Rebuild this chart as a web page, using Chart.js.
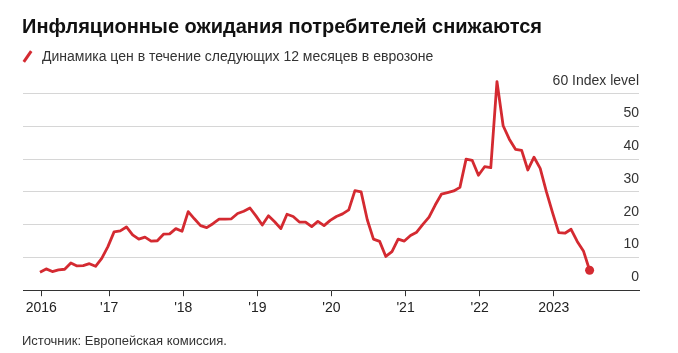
<!DOCTYPE html>
<html>
<head>
<meta charset="utf-8">
<script src="https://cdn.jsdelivr.net/npm/chart.js@4/dist/chart.umd.min.js"></script>
<style>
  body { margin: 0; background: #fff; font-family: "Liberation Sans", Arial, sans-serif; }
  #wrap { position: relative; width: 678px; height: 353px; overflow: hidden; }
  #chart { position: absolute; left: 0; top: 0; }
  #title { position: absolute; left: 22px; top: 15px; font-size: 20px; font-weight: bold; color: #111; white-space: nowrap; }
  #legend { position: absolute; left: 22px; top: 48px; font-size: 14px; color: #333; white-space: nowrap; }
  #legend .swatch { display: inline-block; width: 3px; height: 13px; background: #d42a31; transform: rotate(35deg); margin: 0 13px -2px 4px; }
  #source { position: absolute; left: 22px; top: 333px; font-size: 13px; color: #333; white-space: nowrap; }
</style>
</head>
<body>
<div id="wrap">
  <canvas id="chart" width="678" height="353"></canvas>
  <div id="title">Инфляционные ожидания потребителей снижаются</div>
  <div id="legend"><span class="swatch"></span>Динамика цен в течение следующих 12 месяцев в еврозоне</div>
  <div id="source">Источник: Европейская комиссия.</div>
</div>
<script>
// Monthly balance, Jan 2016 - Jun 2023
const priceExpectations = [
  5.5, 6.5, 5.7, 6.2, 6.4, 8.3, 7.4, 7.5, 8.1, 7.3, 9.7, 13.3,
  17.8, 18.1, 19.3, 16.9, 15.6, 16.2, 15.0, 15.1, 17.1, 17.2, 18.8, 18.0,
  24.0, 21.8, 19.7, 19.1, 20.3, 21.7, 21.7, 21.8, 23.4, 24.1, 25.1, 22.6,
  19.9, 22.7, 20.9, 18.8, 23.2, 22.5, 20.8, 20.8, 19.4, 21.0, 19.7, 21.3,
  22.5, 23.3, 24.5, 30.4, 30.0, 21.5, 15.6, 14.9, 10.3, 11.8, 15.6, 15.0,
  16.7, 17.7, 20.1, 22.3, 26.0, 29.3, 29.8, 30.3, 31.4, 40.0, 39.6, 35.1,
  37.7, 37.4, 63.7, 50.2, 46.1, 43.0, 42.7, 36.7, 40.6, 37.2, 30.1, 23.7,
  17.6, 17.4, 18.6, 14.9, 12.0, 6.1
];
const seriesLabel = "Динамика цен в течение следующих 12 месяцев в еврозоне";
const xTickLabels = ["2016", "'17", "'18", "'19", "'20", "'21", "'22", "2023"];
const xTickMonths = [1, 12, 24, 36, 48, 60, 72, 84];   // months since Jan 2016
const yTickValues = [0, 10, 20, 30, 40, 50, 60];

const red = "#d42a31";
const lastIdx = priceExpectations.length - 1;

// points sit late in their month
const points = priceExpectations.map((v, i) => ({ x: i + 0.8, y: v }));

// y labels sit above their gridline, inside the plot, right aligned
const yLabels = {
  id: "yLabels",
  afterDraw(chart) {
    const { ctx, chartArea, scales } = chart;
    ctx.save();
    ctx.font = "14px 'Liberation Sans', Arial, sans-serif";
    ctx.fillStyle = "#333";
    ctx.textAlign = "right";
    ctx.textBaseline = "middle";
    yTickValues.forEach(v => {
      const y = scales.y.getPixelForValue(v) - 13;
      ctx.fillText(v === 60 ? "60 Index level" : String(v), chartArea.right, y);
    });
    ctx.restore();
  }
};

new Chart(document.getElementById("chart").getContext("2d"), {
  type: "line",
  data: {
    datasets: [{
      label: seriesLabel,
      data: points,
      borderColor: red,
      backgroundColor: red,
      borderWidth: 2.8,
      borderJoinStyle: "round",
      tension: 0,
      pointRadius: (c) => (c.dataIndex === lastIdx ? 4.5 : 0),
      pointBorderWidth: 0,
      pointHoverRadius: 0
    }]
  },
  options: {
    responsive: false,
    animation: false,
    layout: { padding: { left: 23, right: 39, top: 74, bottom: 32 } },
    plugins: {
      legend: { display: false },
      tooltip: { enabled: false }
    },
    scales: {
      x: {
        type: "linear",
        min: -1.95,
        max: 97.8,
        afterBuildTicks: (s) => { s.ticks = xTickMonths.map(v => ({ value: v })); },
        ticks: {
          autoSkip: false,
          maxRotation: 0,
          padding: 4,
          color: "#222",
          font: { family: "'Liberation Sans', Arial, sans-serif", size: 14 },
          callback: (v, i) => xTickLabels[i]
        },
        grid: {
          drawOnChartArea: false,
          drawTicks: true,
          tickLength: 6,
          color: "#333",
          lineWidth: 1
        },
        border: { display: true, color: "#333", width: 1 }
      },
      y: {
        position: "right",
        min: 0,
        max: 66,
        afterBuildTicks: (s) => { s.ticks = yTickValues.map(v => ({ value: v })); },
        ticks: { display: false },
        grid: { drawTicks: false, color: "#d6d6d6", lineWidth: 1 },
        border: { display: false }
      }
    }
  },
  plugins: [yLabels]
});
</script>
</body>
</html>
